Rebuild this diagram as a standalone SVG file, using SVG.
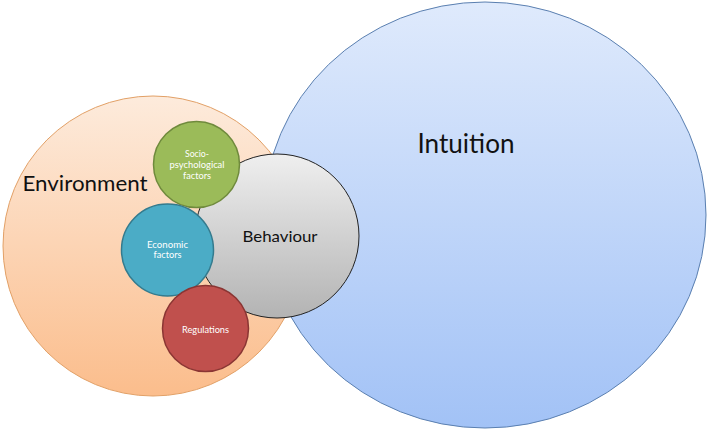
<svg xmlns="http://www.w3.org/2000/svg" width="709" height="433" viewBox="0 0 709 433">
<defs>
<linearGradient id="gInt" x1="0" y1="0" x2="0" y2="1"><stop offset="0" stop-color="#dfeafc"/><stop offset="1" stop-color="#a2c2f6"/></linearGradient>
<linearGradient id="gEnv" x1="0" y1="0" x2="0" y2="1"><stop offset="0" stop-color="#fdebdc"/><stop offset="1" stop-color="#fbbd8c"/></linearGradient>
<linearGradient id="gBeh" x1="0" y1="0" x2="0" y2="1"><stop offset="0" stop-color="#efefef"/><stop offset="1" stop-color="#b3b3b3"/></linearGradient>
<style>
text{font-family:Lato,"Open Sans","Liberation Sans",sans-serif;text-anchor:middle}
.big{fill:#111}
.small{fill:#ffffff;font-size:8.8px}
</style>
</defs>
<g id="intuition">
<ellipse cx="485" cy="215" rx="221" ry="213" fill="url(#gInt)" stroke="#5a7fb0" stroke-width="1"/>
<text class="big" x="466" y="153" font-size="26" textLength="97" lengthAdjust="spacingAndGlyphs">Intuition</text>
</g>
<g id="environment">
<circle cx="153" cy="246" r="150" fill="url(#gEnv)" stroke="#e2a066" stroke-width="1"/>
<text class="big" x="85" y="191" font-size="21" textLength="125" lengthAdjust="spacingAndGlyphs">Environment</text>
</g>
<g id="behaviour">
<circle cx="277" cy="236" r="82" fill="url(#gBeh)" stroke="#222" stroke-width="1"/>
<text class="big" x="280" y="242" font-size="16" textLength="75" lengthAdjust="spacingAndGlyphs">Behaviour</text>
</g>
<g id="socio">
<circle cx="196.5" cy="164.5" r="43" fill="#9bbb59" stroke="#6f8a3c" stroke-width="1.5"/>
<text class="small" x="197" y="157.3" textLength="24" lengthAdjust="spacingAndGlyphs">Socio-</text>
<text class="small" x="197" y="167.7" textLength="55" lengthAdjust="spacingAndGlyphs">psychological</text>
<text class="small" x="197" y="178.7" textLength="28" lengthAdjust="spacingAndGlyphs">factors</text>
</g>
<g id="economic">
<circle cx="167.5" cy="250" r="46" fill="#4bacc6" stroke="#347b8e" stroke-width="1.5"/>
<text class="small" x="167.5" y="247.7" textLength="41" lengthAdjust="spacingAndGlyphs">Economic</text>
<text class="small" x="167.5" y="257.5" textLength="28" lengthAdjust="spacingAndGlyphs">factors</text>
</g>
<g id="regulations">
<circle cx="205.5" cy="328.5" r="43" fill="#c0504d" stroke="#8a3533" stroke-width="1.5"/>
<text class="small" x="205.5" y="332.7" textLength="47" lengthAdjust="spacingAndGlyphs">Regulations</text>
</g>
<g id="connectors"/>
</svg>
